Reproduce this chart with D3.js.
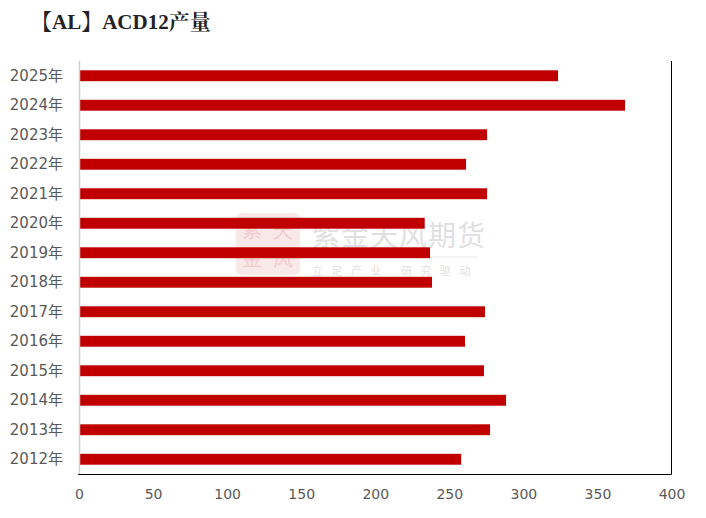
<!DOCTYPE html>
<html><head><meta charset="utf-8">
<script src="https://cdn.jsdelivr.net/npm/d3@7"></script>
<style>body{margin:0;background:#fff}svg{display:block}</style>
</head><body>
<svg id="c" width="706" height="518"></svg>
<script>
const title = "【AL】ACD12产量";
const categories = ["2025年","2024年","2023年","2022年","2021年","2020年","2019年","2018年","2017年","2016年","2015年","2014年","2013年","2012年"];
const values = [323.4, 368.6, 275.5, 261.3, 275.5, 233.4, 237, 238.3, 274.1, 260.6, 273.4, 288.3, 277.5, 258];
const xTicks = [0,50,100,150,200,250,300,350,400];

const svg = d3.select("#c");
const m = {l:79, r:671.5, t:61, b:474};
const x = d3.scaleLinear().domain([0,400]).range([m.l, m.r]);
const y = d3.scaleBand().domain(categories).range([m.t, m.b]).paddingInner(0.63).paddingOuter(0.315);

svg.append("text").attr("x",31).attr("y",29)
  .attr("font-family","'Liberation Serif','Noto Serif CJK SC','Noto Sans CJK SC',serif")
  .attr("font-weight","bold").attr("font-size",21).attr("fill","#222").text(title);

// watermark
const wm = svg.append("g").attr("opacity",0.55);
wm.append("rect").attr("x",236).attr("y",213).attr("width",64).attr("height",62).attr("rx",6)
  .attr("fill","#f3d6d6");
[["紫",252,238],["天",283,238],["金",252,266],["风",283,266]].forEach(([t,cx,cy])=>{
  wm.append("text").attr("x",cx).attr("y",cy).attr("text-anchor","middle").attr("font-size",20)
    .attr("font-family","'Noto Sans CJK SC'").attr("fill","#e6a3a3").text(t);
});
wm.append("text").attr("x",312).attr("y",246).attr("font-size",28).attr("letter-spacing",1)
  .attr("font-family","'Noto Sans CJK SC'").attr("fill","#c8c8c8").text("紫金天风期货");
wm.append("line").attr("x1",312).attr("x2",478).attr("y1",257).attr("y2",257).attr("stroke","#dddddd");
wm.append("text").attr("x",312).attr("y",275).attr("font-size",11).attr("letter-spacing",8.5)
  .attr("font-family","'Noto Sans CJK SC'").attr("fill","#c8c8c8").text("立足产业 研究驱动");

svg.append("g").selectAll("rect").data(values).join("rect")
  .attr("x", x(0)).attr("y",(d,i)=>y(categories[i]))
  .attr("width", d=>x(d)-x(0)).attr("height", y.bandwidth()).attr("fill","#c00000");

// left gray axis
svg.append("line").attr("x1",m.l+0.5).attr("x2",m.l+0.5).attr("y1",m.t).attr("y2",m.b)
  .attr("stroke","#d0d0d0").attr("stroke-width",1.5);
// right black border
svg.append("line").attr("x1",671.5).attr("x2",671.5).attr("y1",m.t).attr("y2",m.b+0.5)
  .attr("stroke","#000").attr("stroke-width",1);
// bottom axis
const xa = svg.append("g").attr("transform",`translate(0,${m.b})`)
  .call(d3.axisBottom(x).tickValues(xTicks).tickSize(0).tickPadding(15));
xa.select(".domain").attr("stroke","#000").attr("d",`M${m.l-1},0.5H${m.r}`);
xa.selectAll("text").attr("font-family","'DejaVu Sans','Noto Sans CJK SC',sans-serif").attr("font-size",14).attr("fill","#595959");

const ya = svg.append("g").attr("transform",`translate(${m.l},0)`)
  .call(d3.axisLeft(y).tickSize(0).tickPadding(16));
ya.select(".domain").remove();
ya.selectAll("text").attr("font-family","'DejaVu Sans','Noto Sans CJK SC',sans-serif").attr("font-size",15).attr("fill","#595959");
</script>
</body></html>
